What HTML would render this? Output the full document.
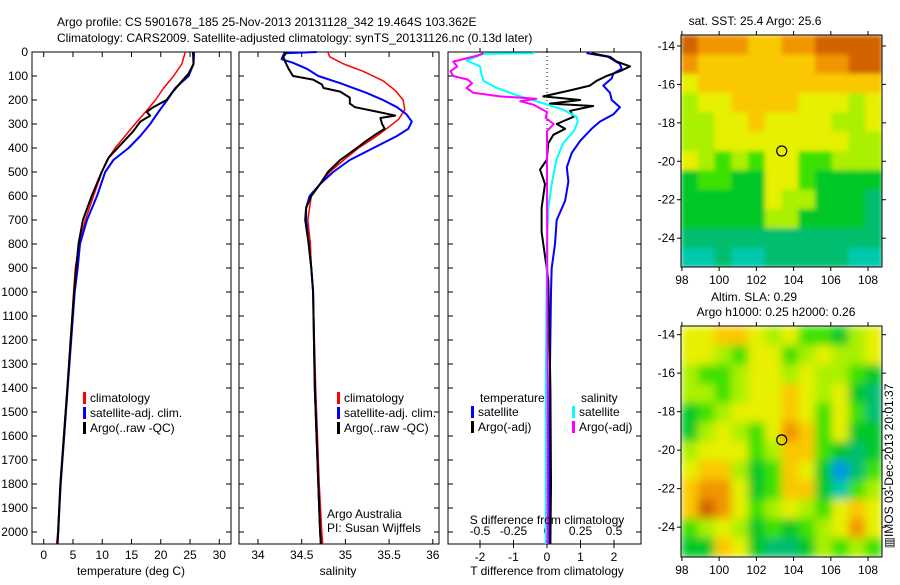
<!DOCTYPE html>
<html><head><meta charset="utf-8"><style>
body{margin:0;background:#fff}
svg text{font-family:"Liberation Sans",sans-serif;font-size:12px;fill:#000}
</style></head><body>
<svg id="chart" width="900" height="580" xmlns="http://www.w3.org/2000/svg">
<defs>
<filter id="blurS" x="-5%" y="-5%" width="110%" height="110%"><feGaussianBlur stdDeviation="2.5" edgeMode="duplicate"/></filter>
<filter id="blurL" x="-5%" y="-5%" width="110%" height="110%"><feGaussianBlur stdDeviation="4.5" edgeMode="duplicate"/></filter>
<clipPath id="clipMap1"><rect x="681" y="35" width="201" height="232"/></clipPath>
<clipPath id="clipMap2"><rect x="681" y="326" width="201" height="231"/></clipPath>
</defs>
<text x="57" y="26">Argo profile: CS 5901678_185 25-Nov-2013 20131128_342 19.464S 103.362E</text>
<text x="57" y="42">Climatology: CARS2009. Satellite-adjusted climatology: synTS_20131126.nc (0.13d later)</text>
<g id="g"></g>
</svg>
<script>
// ---- depth axis ----
const depthTicks=[0,100,200,300,400,500,600,700,800,900,1000,1100,1200,1300,1400,1500,1600,1700,1800,1900,2000];
// ---- temperature panel data ----
const tempTicks=[0,5,10,15,20,25,30];
const tClimDepth=[0,50,100,150,200,250,300,350,400,450,500,600,700,800,900,1000,1200,1400,1600,1800,2000,2050];
const tClim=[24.2,23.6,22.2,20.5,19.1,17.4,15.6,13.9,12.2,10.8,9.95,8.5,7.1,6.05,5.4,5.1,4.6,4.0,3.4,2.8,2.4,2.2];
const tSatDepth=[0,50,100,150,200,250,300,350,400,450,500,600,700,800,900,1000,1200,1400,1600,1800,2000,2050];
const tSat=[25.7,25.6,24.75,22.5,21.1,19.6,18.2,16.5,14.5,11.9,10.5,9.1,7.4,6.2,5.8,5.3,4.7,4.1,3.5,2.9,2.45,2.35];
const tArgoDepth=[0,50,90,130,170,200,230,250,265,290,330,380,440,500,600,700,800,900,1000,1200,1400,1600,1800,2000,2050];
const tArgo=[25.5,25.6,24.75,23.3,21.9,21.0,18.7,17.6,18.2,16.5,15.3,13.4,11.1,9.9,8.2,6.7,5.95,5.55,5.2,4.6,4.05,3.45,2.85,2.5,2.35];
// ---- salinity panel data ----
const salTicks=[34,34.5,35,35.5,36];
const sClimDepth=[0,20,50,80,120,160,200,240,280,320,360,400,450,500,550,600,700,800,900,1000,1400,1800,2000,2050];
const sClim=[34.80,34.82,34.98,35.20,35.43,35.57,35.66,35.68,35.61,35.47,35.32,35.15,34.98,34.82,34.71,34.61,34.57,34.60,34.61,34.63,34.66,34.70,34.73,34.74];
const sSatDepth=[0,5,30,45,70,100,130,170,200,230,260,290,320,350,400,450,500,550,600,650,700,800,900,1000,1400,1800,2000,2050];
const sSat=[34.67,34.30,34.27,34.40,34.56,34.69,34.94,35.24,35.43,35.59,35.70,35.76,35.72,35.59,35.32,35.05,34.86,34.71,34.59,34.55,34.55,34.58,34.61,34.63,34.65,34.69,34.71,34.72];
const sArgoDepth=[0,20,40,70,100,115,135,150,165,190,215,230,250,265,275,300,320,340,370,400,450,500,550,600,650,700,800,900,1000,1400,1800,2000,2050];
const sArgo=[34.33,34.29,34.31,34.35,34.40,34.63,34.73,34.75,34.94,35.05,35.05,35.11,35.38,35.57,35.40,35.42,35.45,35.36,35.24,35.13,34.94,34.80,34.71,34.61,34.55,34.54,34.58,34.61,34.63,34.65,34.69,34.71,34.72];
// ---- difference panel data ----
const dTTicks=[-2,-1,0,1,2];
const dSTicks=[-0.5,-0.25,0,0.25,0.5];
const dSTickLabels=["-0.5","-0.25","0","0.25","0.5"];
const dTSatDepth=[5,20,50,70,90,110,140,170,200,230,260,290,320,370,420,480,540,620,700,800,900,1000,1400,2050];
const dTSat=[1.18,1.82,2.18,2.23,1.98,1.93,1.68,1.88,1.93,2.18,1.98,1.58,1.33,0.99,0.74,0.59,0.64,0.54,0.29,0.24,0.14,0.12,0.08,0.05];
const dTArgoDepth=[5,20,40,60,80,100,120,140,160,185,200,215,225,245,270,300,320,345,380,450,490,550,650,750,850,950,1400,1800,2050];
const dTArgo=[1.33,1.88,2.08,2.48,2.18,1.78,1.48,1.28,0.69,-0.11,0.99,0.09,1.38,0.69,0.79,0.29,0.54,0.19,0.04,-0.01,-0.21,-0.06,-0.16,-0.16,-0.06,0.04,0.1,0.12,0.1];
const dSSatDepth=[0,5,8,35,60,90,120,150,180,210,240,270,290,330,380,450,550,650,800,1400,2050];
const dSSat=[-0.10,-0.10,-0.475,-0.60,-0.50,-0.49,-0.475,-0.375,-0.226,-0.05,0.12,0.22,0.23,0.20,0.12,0.07,0.035,0.01,0,-0.01,-0.01];
const dSArgoDepth=[5,15,40,60,80,100,115,130,150,170,185,195,205,220,250,275,300,330,380,450,600,1400,2050];
const dSArgo=[-0.475,-0.52,-0.70,-0.67,-0.72,-0.70,-0.59,-0.56,-0.60,-0.55,-0.35,-0.08,-0.20,-0.10,0,-0.01,0.05,0,0,0,0,0.005,0.005];
// ---- map data ----
const lonTicks=[98,100,102,104,106,108];
const latTicks=[-14,-16,-18,-20,-22,-24];
const sstGrid=[
[9,8,8,8,7,7,8,8,9,9,9,9],
[8,7,7,7,7,7,7,7,8,8,9,9],
[6,7,7,7,7,7,7,7,7,7,7,7],
[5,6,6,7,7,7,7,6,6,6,5,6],
[5,5,6,6,7,6,6,6,6,5,5,6],
[5,5,6,6,6,6,6,6,6,6,5,5],
[6,5,4,5,4,6,6,4,4,5,5,5],
[3,4,4,3,3,6,6,4,3,3,3,3],
[3,3,3,3,3,6,5,5,3,3,3,2],
[3,3,3,3,3,5,5,3,3,3,3,2],
[2,2,2,2,2,2,2,2,2,2,2,2],
[1,1,2,1,1,2,2,2,2,2,1,1]];
const slaGrid=[
[6,6,7,7,6,5,6,4,4,3,5,6],
[6,6,5,4,6,6,4,5,6,5,5,6],
[5,4,4,5,6,6,5,6,5,5,4,3],
[5,5,4,5,6,6,7,6,5,6,3,2],
[3,4,5,6,6,6,7,6,4,6,4,2],
[3,5,6,5,4,6,8,7,4,6,3,3],
[5,6,6,6,4,5,7,7,4,3,2,3],
[6,7,7,5,3,4,7,6,3,0,2,4],
[7,8,8,6,3,4,7,7,3,1,4,5],
[7,9,8,6,4,5,6,5,4,6,7,6],
[4,5,6,5,3,4,3,4,5,6,8,6],
[3,3,7,6,3,2,2,3,5,4,5,4]];
const floatLon=103.362, floatLat=-19.464;

const NS='http://www.w3.org/2000/svg';
const root=document.getElementById('g');
function mk(tag,attrs,parent,name,inter){const e=document.createElementNS(NS,tag);for(const k in attrs)e.setAttribute(k,attrs[k]);


(parent||root).appendChild(e);return e;}
function txt(x,y,s,anchor,parent,name){const t=mk('text',{x:x,y:y,'text-anchor':anchor||'start'},parent,name,false);t.textContent=s;return t;}

const Y0=52,Y1=544,DMAX=2050;
const yD=d=>Y0+(d/DMAX)*(Y1-Y0);
function panel(x0,x1,name){const g=mk('g',{},root,name,false);
mk('rect',{x:x0,y:Y0,width:x1-x0,height:Y1-Y0,fill:'none',stroke:'#000','stroke-width':1},g,name+'-frame',false);return g;}
function line(g,xs,ds,xf,color,w,name){let p='';for(let i=0;i<xs.length;i++)p+=(i?'L':'M')+xf(xs[i]).toFixed(1)+','+yD(ds[i]).toFixed(1);
mk('path',{d:p,fill:'none',stroke:color,'stroke-width':w,'stroke-linejoin':'round'},g,name,false);}
function depthTicksFor(g,x0,x1,labels){depthTicks.forEach(d=>{const y=yD(d);
mk('line',{x1:x0,y1:y,x2:x0+5,y2:y,stroke:'#000'},g,'y-tick',false);
mk('line',{x1:x1,y1:y,x2:x1-5,y2:y,stroke:'#000'},g,'y-tick',false);
if(labels)txt(x0-4,y+4,String(d),'end',g,'y-tick-label');});}
function xTicks(g,vals,xf,labels,top,bottom){vals.forEach((v,i)=>{const x=xf(v);
if(bottom)mk('line',{x1:x,y1:Y1,x2:x,y2:Y1-5,stroke:'#000'},g,'x-tick',false);
if(top)mk('line',{x1:x,y1:Y0,x2:x,y2:Y0+5,stroke:'#000'},g,'x-tick',false);
if(labels)txt(x,Y1+15,labels[i],'middle',g,'x-tick-label');});}
function legend(g,x,y,items){items.forEach((it,i)=>{const yy=y+i*15;
mk('rect',{x:x,y:yy-10,width:3,height:12,fill:it[1]},g,'legend-marker',false);
txt(x+7,yy,it[0],'start',g,'legend-entry');});}

// Panel 1: temperature
const xT=t=>32+(t+2)/34*(231-32);
const p1=panel(32,231,'temperature-panel');
depthTicksFor(p1,32,231,true);
xTicks(p1,tempTicks,xT,tempTicks.map(String),true,true);
txt(131,575,'temperature (deg C)','middle',p1,'x-axis-title-temperature');
line(p1,tClim,tClimDepth,xT,'#ff0000',1.5,'temperature-climatology-line');
line(p1,tSat,tSatDepth,xT,'#0000ff',2,'temperature-satellite-line');
line(p1,tArgo,tArgoDepth,xT,'#000000',2,'temperature-argo-line');
legend(p1,83,402,[['climatology','#ff0000'],['satellite-adj. clim.','#0000ff'],['Argo(..raw -QC)','#000']]);

// Panel 2: salinity
const xS=s=>258+(s-34)*87.4;
const p2=panel(239,439,'salinity-panel');
depthTicksFor(p2,239,439,false);
xTicks(p2,salTicks,xS,salTicks.map(String),true,true);
txt(338,575,'salinity','middle',p2,'x-axis-title-salinity');
line(p2,sClim,sClimDepth,xS,'#ff0000',1.5,'salinity-climatology-line');
line(p2,sSat,sSatDepth,xS,'#0000ff',2,'salinity-satellite-line');
line(p2,sArgo,sArgoDepth,xS,'#000000',2,'salinity-argo-line');
legend(p2,337,402,[['climatology','#ff0000'],['satellite-adj. clim.','#0000ff'],['Argo(..raw -QC)','#000']]);
txt(327,518,'Argo Australia','start',p2,'credit-argo-australia');
txt(327,532,'PI: Susan Wijffels','start',p2,'credit-pi');

// Panel 3: differences
const xDT=t=>547+t*33.5;
const xDS=s=>547+s*134;
const p3=panel(448,641,'difference-panel');
depthTicksFor(p3,448,641,false);
dTTicks.forEach(v=>{const x=xDT(v);
mk('line',{x1:x,y1:Y1,x2:x,y2:Y1+4,stroke:'#000'},p3,'t-diff-tick',false);
mk('line',{x1:x,y1:Y0,x2:x,y2:Y0-4,stroke:'#000'},p3,'t-diff-tick',false);
txt(x,Y1+17,String(v),'middle',p3,'t-diff-tick-label');});
dSTicks.forEach((v,i)=>{const x=xDS(v);
mk('line',{x1:x,y1:Y1,x2:x,y2:Y1-4,stroke:'#000'},p3,'s-diff-tick',false);
txt(x,Y1-9,dSTickLabels[i],'middle',p3,'s-diff-tick-label');});
mk('line',{x1:xDT(0),y1:Y0,x2:xDT(0),y2:Y1,stroke:'#000','stroke-dasharray':'1,3'},p3,'zero-line',false);
line(p3,dTSat,dTSatDepth,xDT,'#0000ff',2,'t-diff-satellite-line');
line(p3,dTArgo,dTArgoDepth,xDT,'#000000',2,'t-diff-argo-line');
line(p3,dSSat,dSSatDepth,xDS,'#00ffff',2,'s-diff-satellite-line');
line(p3,dSArgo,dSArgoDepth,xDS,'#ff00ff',2,'s-diff-argo-line');
txt(480,402,'temperature','start',p3,'legend-title-temperature');
txt(581,402,'salinity','start',p3,'legend-title-salinity');
legend(p3,471,416,[['satellite','#0000ff'],['Argo(-adj)','#000']]);
legend(p3,572,416,[['satellite','#00ffff'],['Argo(-adj)','#ff00ff']]);
txt(547,524,'S difference from climatology','middle',p3,'s-diff-axis-title');
txt(547,575,'T difference from climatology','middle',p3,'t-diff-axis-title');

// Maps
const cmap=[[0,150,230],[0,200,170],[0,190,110],[0,200,40],[60,225,0],[170,240,0],[230,240,0],[250,200,0],[240,150,0],[210,100,0]];
function mapPanel(grid,top,bottom,latTop,latBot,clip,filt,name){
const L=681,R=882,lonL=97.95,lonR=108.75;
const xL=v=>L+(v-lonL)/(lonR-lonL)*(R-L);
const yL=v=>top+(latTop-v)/(latTop-latBot)*(bottom-top);
const g=mk('g',{},root,name,false);
const cg=mk('g',{'clip-path':'url(#'+clip+')'},g,name+'-image',false);
const fg=mk('g',{filter:'url(#'+filt+')'},cg,name+'-cells',false);
const rows=grid.length,cols=grid[0].length;
const cw=(lonR-lonL)/cols,ch=(latTop-latBot)/rows;
for(let r=0;r<rows;r++)for(let c=0;c<cols;c++){const v=grid[r][c],col=cmap[v];
const x=xL(lonL+c*cw),y=yL(latTop-r*ch);
mk('rect',{x:x.toFixed(1),y:y.toFixed(1),width:(xL(lonL+(c+1)*cw)-x+0.6).toFixed(1),height:(yL(latTop-(r+1)*ch)-y+0.6).toFixed(1),fill:'rgb('+col.join(',')+')'},fg,'map-cell',false);}
mk('rect',{x:L,y:top,width:R-L,height:bottom-top,fill:'none',stroke:'#000'},g,name+'-frame',false);
lonTicks.forEach(v=>{const x=xL(v);
mk('line',{x1:x,y1:bottom,x2:x,y2:bottom+4,stroke:'#000'},g,'lon-tick',false);
mk('line',{x1:x,y1:top,x2:x,y2:top-4,stroke:'#000'},g,'lon-tick',false);
txt(x,bottom+17,String(v),'middle',g,'lon-tick-label');});
latTicks.forEach(v=>{const y=yL(v);
mk('line',{x1:L,y1:y,x2:L-4,y2:y,stroke:'#000'},g,'lat-tick',false);
mk('line',{x1:R,y1:y,x2:R+4,y2:y,stroke:'#000'},g,'lat-tick',false);
txt(L-6,y+4,String(v),'end',g,'lat-tick-label');});
mk('circle',{cx:xL(floatLon),cy:yL(floatLat),r:5,fill:'none',stroke:'#000','stroke-width':1.2},g,name+'-float-marker',false);
}
mapPanel(sstGrid,35,267,-13.43,-25.5,'clipMap1','blurS','sst-map');
mapPanel(slaGrid,326,557,-13.55,-25.55,'clipMap2','blurL','sla-map');
txt(755,25,'sat. SST: 25.4  Argo: 25.6','middle',root,'sst-map-title');
txt(754,301,'Altim. SLA: 0.29','middle',root,'sla-map-title');
txt(776,316,'Argo h1000: 0.25 h2000: 0.26','middle',root,'sla-map-subtitle');
const r=txt(0,0,'\u25A5IMOS 03-Dec-2013 20:01:37','middle',root,'timestamp-label');
r.setAttribute('transform','translate(893,466) rotate(-90)');
</script>
</body></html>
